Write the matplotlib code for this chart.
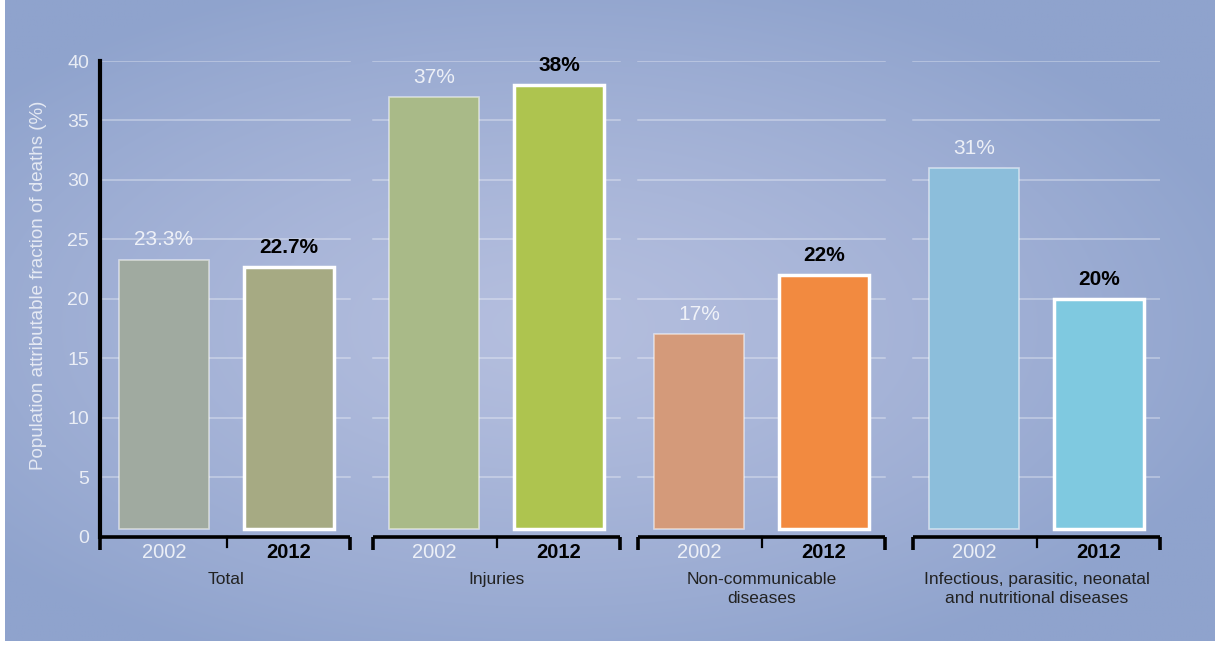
import numpy as np
import matplotlib.pyplot as plt

plt.rcParams['font.family'] = ['Liberation Sans', 'DejaVu Sans']

groups = ["Total", "Injuries", "Non-communicable\ndiseases",
          "Infectious, parasitic, neonatal\nand nutritional diseases"]
years = ["2002", "2012"]
v2002 = [23.3, 37, 17, 31]
v2012 = [22.7, 38, 22, 20]
labels2002 = ["23.3%", "37%", "17%", "31%"]
labels2012 = ["22.7%", "38%", "22%", "20%"]
yticks = [0, 5, 10, 15, 20, 25, 30, 35, 40]
colors2002 = ["#a0aaa0", "#a9ba88", "#d49a7a", "#8cbedb"]
colors2012 = ["#a6aa83", "#aec44f", "#f28a40", "#7fc9e0"]
ylabel = "Population attributable fraction of deaths (%)"

W, H = 1227, 645
fig = plt.figure(figsize=(W / 100, H / 100), dpi=100, facecolor="white")

# background radial gradient
bg = fig.add_axes([5 / W, 4 / H, 1210 / W, 641 / H], zorder=-10)
nx, ny = 400, 220
xx, yy = np.meshgrid(np.linspace(-1, 1, nx), np.linspace(-1, 1, ny))
r = np.sqrt(((xx + 0.1) / 1.05) ** 2 + ((yy - 0.02) / 1.0) ** 2)
r = np.clip(r / 1.15, 0, 1)
c0 = np.array([0xb4, 0xbe, 0xde]) / 255
c1 = np.array([0x8f, 0xa3, 0xcd]) / 255
img = c0[None, None, :] * (1 - r[..., None] ** 1.3) + c1[None, None, :] * (r[..., None] ** 1.3)
bg.imshow(img, extent=[0, 1, 0, 1], aspect="auto", interpolation="bilinear")
bg.set_axis_off()

ax = fig.add_axes([100 / W, (H - 536.5) / H, 1060 / W, 475.5 / H])
ax.patch.set_alpha(0)
G = 2.16
bw = 0.72
base = 0.67
xl, xr = -0.512, 7.968
ax.set_xlim(xl, xr)
ax.set_ylim(0, 40)
shift = [0.0, 0.0, -0.04, 0.0]

for g in range(len(groups)):
    c = g * G + shift[g]
    x0 = xl if g == 0 else c - 0.49
    x1 = c + 1.49 if g < 3 else xr
    for t in yticks[1:]:
        ax.plot([x0, x1], [t, t], color=(1, 1, 1, 0.38), lw=1.1, zorder=1)
    # bars
    p0, p1 = c, c + 1
    ax.bar(p0, v2002[g] - base, bottom=base, width=bw, color=colors2002[g],
           edgecolor=(1, 1, 1, 0.55), linewidth=1.2, zorder=2)
    ax.bar(p1, v2012[g] - base, bottom=base, width=bw, color=colors2012[g],
           edgecolor="white", linewidth=2.5, zorder=2)
    ax.text(p0, v2002[g] + 0.85, labels2002[g], ha="center", va="bottom",
            color=(1, 1, 1, 0.82), fontsize=15)
    ax.text(p1, v2012[g] + 0.85, labels2012[g], ha="center", va="bottom",
            color="black", fontsize=15, fontweight="bold")
    # bracket
    kw = dict(color="black", lw=2.6, clip_on=False, solid_capstyle="butt", zorder=5)
    ax.plot([x0, x1], [0, 0], **kw)
    ax.plot([x0, x0], [0, -1.1], **kw)
    ax.plot([x1, x1], [0, -1.1], **kw)
    ax.plot([c + 0.5, c + 0.5], [0, -0.85], color="black", lw=1.6,
            clip_on=False, zorder=5)
    ax.text(p0, -1.38, years[0], ha="center", va="center",
            color=(1, 1, 1, 0.82), fontsize=14.5)
    ax.text(p1, -1.38, years[1], ha="center", va="center",
            color="black", fontsize=14.5, fontweight="bold")
    ax.text(c + 0.5, -3.02, groups[g], ha="center", va="top",
            color="#222222", fontsize=12.5, linespacing=1.28)

for s in ["top", "right", "bottom"]:
    ax.spines[s].set_visible(False)
ax.spines["left"].set_linewidth(3)
ax.spines["left"].set_color("black")
ax.set_xticks([])
ax.set_yticks(yticks)
ax.tick_params(axis="y", length=0, pad=8, labelcolor=(1, 1, 1, 0.8), labelsize=14)

fig.text(39 / W, 1 - 285 / H, ylabel, rotation=90, ha="center", va="center",
         color=(1, 1, 1, 0.75), fontsize=13.5)

fig.savefig("out.png", dpi=100, facecolor="white")
